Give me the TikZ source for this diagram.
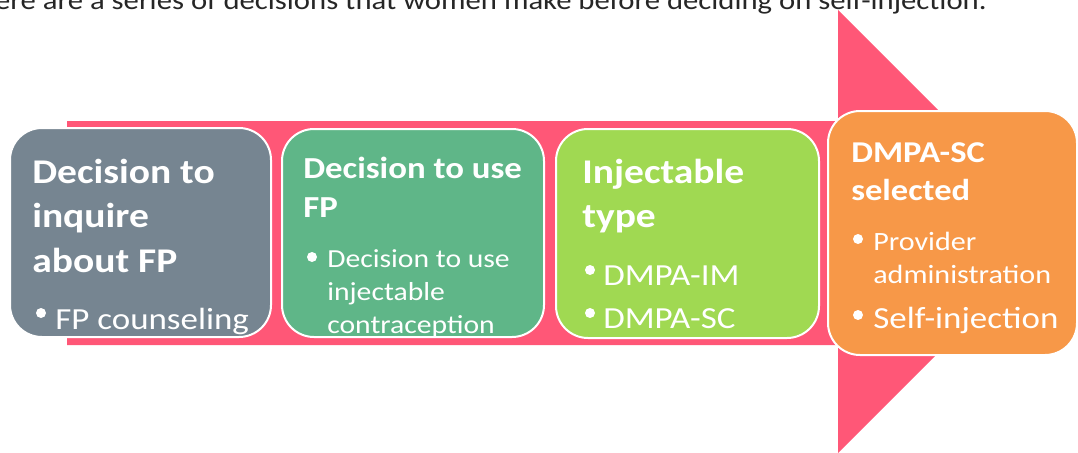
\documentclass[tikz,border=0pt]{standalone}
\usepackage{fontspec}
\setmainfont{Carlito}
\definecolor{bandpink}{HTML}{FF5777}
\definecolor{stepgray}{HTML}{768591}
\definecolor{stepgreen}{HTML}{5FB688}
\definecolor{steplime}{HTML}{A0D952}
\definecolor{steporange}{HTML}{F79848}
\definecolor{headgray}{HTML}{262626}
% stacked lines whose first baseline is the node's base
\newcommand\linestack[1]{\begin{tabular}[t]{@{}l@{}}#1\end{tabular}}
\tikzset{
  stepbox/.style={draw=white, line width=1.5pt, rounded corners=24pt},
  txt/.style={text=white, inner sep=0pt, anchor=base west, xscale=1.14},
  title/.style={txt, font=\bfseries\fontsize{26}{33.4}\selectfont},
  item/.style={txt, font=\fontsize{23}{32}\selectfont},
  dotmark/.style={fill=white},
}
\begin{document}
\begin{tikzpicture}[x=0.75pt, y=-0.75pt]
\useasboundingbox (0,0) rectangle (1078,453);
% heading line across the top
\node[text=headgray, font=\fontsize{20.2}{24}\selectfont, inner sep=0pt, anchor=base east, xscale=1.14] (head) at (987,10)
  {There are a series of decisions that women make before deciding on self-injection.};
% the pink arrow behind the steps
\fill[bandpink] (67,121) -- (838,121) -- (838,10) -- (1059.5,231.5) -- (838,453) -- (838,345) -- (67,345) -- cycle;
% step boxes
\draw[stepbox, fill=stepgray]   (10,128) rectangle (271,337);
\draw[stepbox, fill=stepgreen]  (282,129) rectangle (544,337);
\draw[stepbox, fill=steplime]   (556,129) rectangle (819,338);
\draw[stepbox, fill=steporange] (828,111) rectangle (1077,355);
% step 1
\node[title] (t1) at (32,183) {\linestack{Decision to\\inquire\\about FP}};
\fill[dotmark] (41,313) circle (5);
\node[item] (b1) at (55,329) {FP counseling};
% step 2
\node[title, font=\bfseries\fontsize{22.9}{29.3}\selectfont] (t2) at (303,178) {\linestack{Decision to use\\FP}};
\fill[dotmark] (312,257) circle (5);
\node[item, font=\fontsize{19.5}{24.75}\selectfont] (b2) at (327,267) {\linestack{Decision to use\\injectable\\contraception}};
% step 3
\node[title] (t3) at (582,183) {\linestack{Injectable\\type}};
\fill[dotmark] (590,270) circle (5);
\fill[dotmark] (590,313) circle (5);
\node[item] (b3a) at (603,285) {DMPA-IM};
\node[item] (b3b) at (603,328) {DMPA-SC};
% step 4
\node[title, font=\bfseries\fontsize{22.7}{28.5}\selectfont] (t4) at (851,162) {\linestack{DMPA-SC\\selected}};
\fill[dotmark] (858,239) circle (5);
\fill[dotmark] (858,315) circle (5);
\node[item, font=\fontsize{19.8}{24.75}\selectfont] (b4a) at (873,250) {\linestack{Provider\\administration}};
\node[item] (b4b) at (873,328) {Self-injection};
\end{tikzpicture}
\end{document}
